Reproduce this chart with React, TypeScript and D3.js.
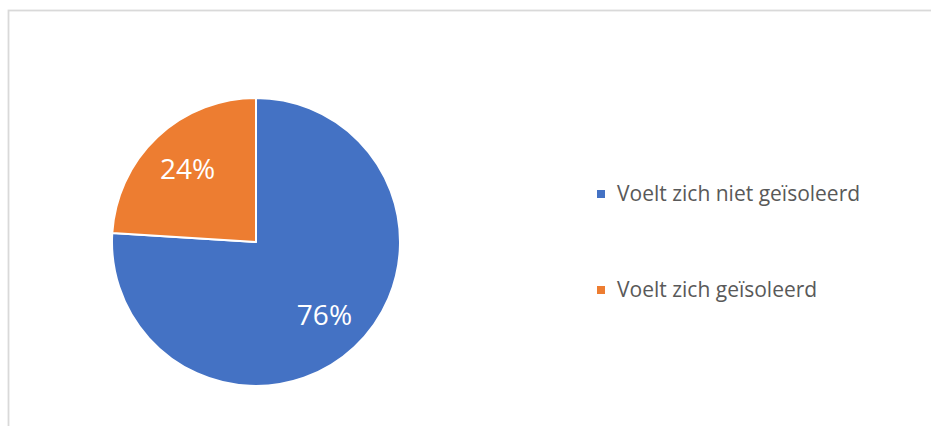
import React from 'react';
import * as d3 from 'd3';

const categories = ['Voelt zich niet geïsoleerd', 'Voelt zich geïsoleerd'];
const values = [76, 24];
const colors = ['#4472c4', '#ed7d31'];

const W = 931;
const H = 426;

export default function App() {
  const cx = 256;
  const cy = 242;
  const radius = 144;

  const pie = d3.pie<number>().sort(null).value(d => d);
  const arcs = pie(values);
  const arc = d3.arc<d3.PieArcDatum<number>>().innerRadius(0).outerRadius(radius);
  const labelArc = d3.arc<d3.PieArcDatum<number>>().innerRadius(100).outerRadius(100);
  const total = d3.sum(values);

  const legendY = d3.scalePoint<string>().domain(categories).range([194, 290]);

  return (
    <div style={{ position: 'absolute', left: 0, top: 0 }}>
      <svg width={W} height={H} style={{ display: 'block', fontFamily: '"Open Sans", sans-serif' }}>
        <rect x={0} y={0} width={W} height={H} fill="#fff" />
        <rect x={8.5} y={10.5} width={1000} height={1000} fill="none" stroke="#d9d9d9" strokeWidth={1.8} />
        <g transform={`translate(${cx},${cy})`}>
          {arcs.map((d, i) => (
            <path key={i} d={arc(d) || ''} fill={colors[i]} stroke="#fff" strokeWidth={2} strokeLinejoin="round" />
          ))}
          {arcs.map((d, i) => {
            const [x, y] = labelArc.centroid(d);
            return (
              <text key={i} x={x} y={y} dy="0.36em" textAnchor="middle" fill="#fff" fontSize={28}>
                {Math.round((d.value / total) * 100)}%
              </text>
            );
          })}
        </g>
        {categories.map((c, i) => (
          <g key={c} transform={`translate(597,${legendY(c)})`}>
            <rect x={0} y={-4} width={8} height={8} fill={colors[i]} />
            <text x={20} y={0} dy="0.35em" fontSize={21} fill="#595959">{c}</text>
          </g>
        ))}
      </svg>
    </div>
  );
}
